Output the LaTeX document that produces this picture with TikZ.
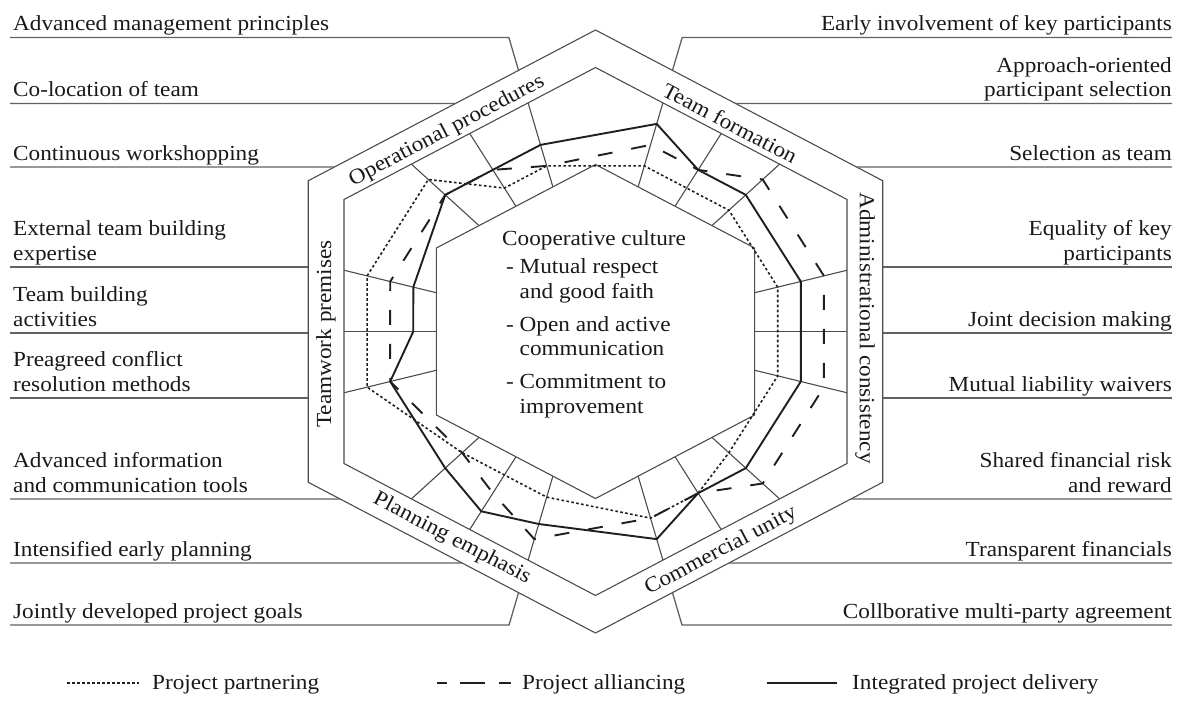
\documentclass[tikz,border=0pt]{standalone}
\usepackage{fontspec}
\setmainfont{Liberation Serif}[FakeStretch=1.08]
\begin{document}
\begin{tikzpicture}[x=1pt,y=-1pt,
  frame/.style={draw=black!70,line width=1.1pt,line join=miter},
  leader/.style={draw=black!62,line width=1.3pt},
  lbl/.style={font=\fontsize{21.5}{24.5}\selectfont,inner sep=0pt,text=black!90},
  ipd/.style={draw=black!88,line width=1.9pt,line join=round},
  alli/.style={draw=black!88,line width=1.9pt,dash pattern=on 15pt off 19pt,line join=round},
  part/.style={draw=black!88,line width=1.6pt,dash pattern=on 2.6pt off 2.4pt,line join=round}]

\useasboundingbox (0,0) rectangle (1182,704);

% ---------- radar: hexagonal frame, spokes and the three profiles ----------
\begin{scope}[shift={(595.5,331.5)},xscale=1.1,yscale=-1]
  \def\Rout{301.5}\def\Rmid{264}\def\Rin{167}
  \coordinate (c) at (0,0);
  \foreach \R/\n in {301.5/o,264/m,167/i}{
    \foreach \a in {30,90,150,210,270,330} \coordinate (\n\a) at (\a:\R);
  }
  \foreach \n in {o,m,i}
    \draw[frame] (\n30) -- (\n90) -- (\n150) -- (\n210) -- (\n270) -- (\n330) -- cycle;
  % one spoke per aspect, three on each side
  \foreach \a in {15,45,60,75,105,120,135,165,180,195,225,240,255,285,300,315,345,360}{
    \pgfmathsetmacro\k{cos(30)/cos(\a-60*round(\a/60))}
    \draw[frame] (\a:{\Rin*\k}) -- (\a:{\Rmid*\k});
    \coordinate (q\a) at (\a:{\Rout*\k});
  }
  % profile values: 0 = inner hexagon, 1 = middle hexagon
  \foreach \s/\vals in {
    ipd/{15/.5,45/.5,60/.5,75/.75,105/.5,120/.5,135/.5,165/.25,180/.25,195/.5,225/.5,240/.75,255/.57,285/.75,300/.5,315/.5,345/.5,360/.5},
    alli/{15/.75,45/.75,60/.5,75/.5,105/.25,120/.5,135/.5,165/.5,180/.5,195/.5,225/.25,240/.5,255/.75,285/.5,300/.5,315/.75,345/.75,360/.75},
    part/{15/.25,45/.25,60/.25,75/.25,105/.25,120/.25,135/.75,165/.75,180/.75,195/.75,225/.25,240/.25,255/.25,285/.5,300/.5,315/.25,345/.25,360/.25}}{
    \foreach \a/\t [count=\j] in \vals {
      \pgfmathsetmacro\k{cos(30)/cos(\a-60*round(\a/60))}
      \coordinate (\s\j) at (\a:{(\Rin+(\Rmid-\Rin)*\t)*\k});
    }
  }
  \draw[part] (part1) \foreach \j in {2,...,18}{ -- (part\j)} -- cycle;
  \draw[alli] (alli1) \foreach \j in {2,...,18}{ -- (alli\j)} -- cycle;
  \draw[ipd] (ipd1) \foreach \j in {2,...,18}{ -- (ipd\j)} -- cycle;
\end{scope}

% ---------- category names in the outer band ----------
\node[lbl,rotate=27.7]  (op) at (447,131) {Operational procedures};
\node[lbl,rotate=-27.7] (tf) at (730,123) {Team formation};
\node[lbl,rotate=-90]   (ac) at (865,328) {Administrational consistency};
\node[lbl,rotate=27.7]  (cu) at (721,551) {Commercial unity};
\node[lbl,rotate=-27.7] (pe) at (452,539) {Planning emphasis};
\node[lbl,rotate=90]    (tp) at (326,334) {Teamwork premises};

% ---------- centre text (anchored on its last line) ----------
\node[lbl,align=left,anchor=base west] (core) at (502,413)
  {Cooperative culture\\[3.5pt]
   \hspace*{4pt}- Mutual respect\\
   \hspace*{4pt}\phantom{- }and good faith\\[8.5pt]
   \hspace*{4pt}- Open and active\\
   \hspace*{4pt}\phantom{- }communication\\[8.5pt]
   \hspace*{4pt}- Commitment to\\
   \hspace*{4pt}\phantom{- }improvement};

% ---------- leader lines ----------
\foreach \i/\y in {1/37.5,2/103.5,3/167,4/267,5/333,6/398,7/499,8/563,9/625}{
  \coordinate (lA\i) at (10,\y);   \coordinate (lB\i) at (20,\y);
  \coordinate (rA\i) at (1172,\y); \coordinate (rB\i) at (1160,\y);
}
\draw[leader] (lA1) -- (intersection of c--q105 and lA1--lB1) -- (q105);
\draw[leader] (lA2) -- (intersection of o90--o150 and lA2--lB2);
\draw[leader] (lA3) -- (intersection of o90--o150 and lA3--lB3);
\draw[leader] (lA4) -- (intersection of o150--o210 and lA4--lB4);
\draw[leader] (lA5) -- (intersection of o150--o210 and lA5--lB5);
\draw[leader] (lA6) -- (intersection of o150--o210 and lA6--lB6);
\draw[leader] (lA7) -- (intersection of o210--o270 and lA7--lB7);
\draw[leader] (lA8) -- (intersection of o210--o270 and lA8--lB8);
\draw[leader] (lA9) -- (intersection of c--q255 and lA9--lB9) -- (q255);
\draw[leader] (rA1) -- (intersection of c--q75 and rA1--rB1) -- (q75);
\draw[leader] (rA2) -- (intersection of o90--o30 and rA2--rB2);
\draw[leader] (rA3) -- (intersection of o90--o30 and rA3--rB3);
\draw[leader] (rA4) -- (intersection of o30--o330 and rA4--rB4);
\draw[leader] (rA5) -- (intersection of o30--o330 and rA5--rB5);
\draw[leader] (rA6) -- (intersection of o30--o330 and rA6--rB6);
\draw[leader] (rA7) -- (intersection of o330--o270 and rA7--rB7);
\draw[leader] (rA8) -- (intersection of o330--o270 and rA8--rB8);
\draw[leader] (rA9) -- (intersection of c--q285 and rA9--rB9) -- (q285);

% ---------- aspect labels (base = last line) ----------
\begin{scope}[every node/.style={lbl,align=left,anchor=base west}]
  \node (L1) at (13,30.5) {Advanced management principles};
  \node (L2) at (13,96.5) {Co-location of team};
  \node (L3) at (13,160)  {Continuous workshopping};
  \node (L4) at (13,260)  {External team building\\expertise};
  \node (L5) at (13,326)  {Team building\\activities};
  \node (L6) at (13,391)  {Preagreed conflict\\resolution methods};
  \node (L7) at (13,492)  {Advanced information\\and communication tools};
  \node (L8) at (13,556)  {Intensified early planning};
  \node (L9) at (13,618)  {Jointly developed project goals};
\end{scope}
\begin{scope}[every node/.style={lbl,align=right,anchor=base east}]
  \node (R1) at (1172,30.5) {Early involvement of key participants};
  \node (R2) at (1172,96.5) {Approach-oriented\\participant selection};
  \node (R3) at (1172,160)  {Selection as team};
  \node (R4) at (1172,260)  {Equality of key\\participants};
  \node (R5) at (1172,326)  {Joint decision making};
  \node (R6) at (1172,391)  {Mutual liability waivers};
  \node (R7) at (1172,492)  {Shared financial risk\\and reward};
  \node (R8) at (1172,556)  {Transparent financials};
  \node (R9) at (1172,618)  {Collborative multi-party agreement};
\end{scope}

% ---------- legend ----------
\coordinate (g1a) at (67,683);  \coordinate (g1b) at (139,683);
\coordinate (g2a) at (437,683); \coordinate (g2b) at (511,683);
\coordinate (g3a) at (767,683); \coordinate (g3b) at (837,683);
\draw[part] (g1a) -- (g1b);
\draw[draw=black!88,line width=1.9pt,dash pattern=on 10pt off 13pt on 25pt off 14pt on 12pt] (g2a) -- (g2b);
\draw[ipd] (g3a) -- (g3b);
\node[lbl,anchor=base west] (k1) at (152,689) {Project partnering};
\node[lbl,anchor=base west] (k2) at (522,689) {Project alliancing};
\node[lbl,anchor=base west] (k3) at (852,689) {Integrated project delivery};
\end{tikzpicture}
\end{document}
